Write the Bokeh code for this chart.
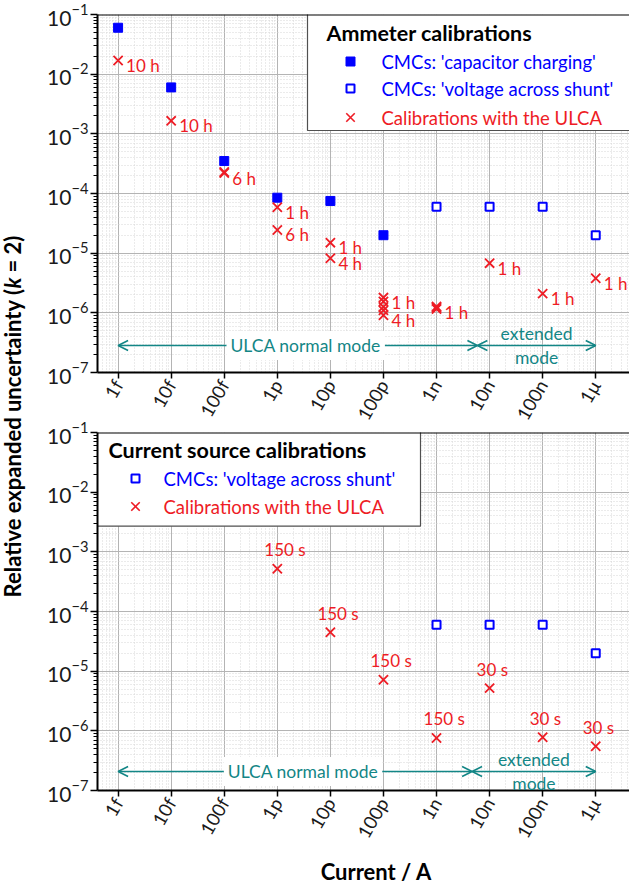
import math
from bokeh.plotting import figure
from bokeh.models import (FixedTicker, CustomJSTickFormatter, Label, Span, Arrow,
                          OpenHead, Range1d, ColumnDataSource)
from bokeh.layouts import row, column
from bokeh.embed import file_html
from bokeh.resources import INLINE
from bokeh.core.properties import value

# ---------------- data ----------------
currents = [1e-15, 1e-14, 1e-13, 1e-12, 1e-11, 1e-10, 1e-9, 1e-8, 1e-7, 1e-6]
x_labels = ["1f", "10f", "100f", "1p", "10p", "100p", "1n", "10n", "100n", "1µ"]
y_ticks = [1e-7, 1e-6, 1e-5, 1e-4, 1e-3, 1e-2, 1e-1]

# Ammeter calibrations
amm_cap_x = [1e-15, 1e-14, 1e-13, 1e-12, 1e-11, 1e-10]
amm_cap_y = [6e-2, 6e-3, 3.5e-4, 8.5e-5, 7.5e-5, 2e-5]
shunt_x = [1e-9, 1e-8, 1e-7, 1e-6]
shunt_y = [6e-5, 6e-5, 6e-5, 2e-5]
amm_ulca_x = [1e-15, 1e-14, 1e-13, 1e-13, 1e-12, 1e-12, 1e-11, 1e-11,
              1e-10, 1e-10, 1e-10, 1e-10, 1e-10, 1e-9, 1e-9, 1e-9, 1e-8, 1e-7, 1e-6]
amm_ulca_y = [1.7e-2, 1.65e-3, 2.3e-4, 2.2e-4, 5.9e-5, 2.45e-5, 1.5e-5, 8.2e-6,
              1.8e-6, 1.55e-6, 1.26e-6, 1.1e-6, 9.1e-7, 1.28e-6, 1.22e-6, 1.16e-6,
              6.8e-6, 2.1e-6, 3.8e-6]
amm_ulca_lbl = ["10 h", "10 h", "", "6 h", "1 h", "6 h", "1 h", "4 h",
                "1 h", "", "", "", "4 h", "", "1 h", "", "1 h", "1 h", "1 h"]

# Current source calibrations
src_ulca_x = [1e-12, 1e-11, 1e-10, 1e-9, 1e-8, 1e-7, 1e-6]
src_ulca_y = [5.2e-4, 4.5e-5, 7.2e-6, 7.6e-7, 5.2e-6, 7.8e-7, 5.5e-7]
src_ulca_lbl = ["150 s", "150 s", "150 s", "150 s", "30 s", "30 s", "30 s"]

# ULCA operating mode ranges (log10 of current)
mode_start = -15.0
mode_break_top = -8.23
mode_break_bot = -8.33
mode_end = -6.0

# ---------------- style ----------------
FONT = "Lato"
BLUE = "#0000ff"
RED = "#ee1c25"
TEAL = "#138686"

LAB_W = 28
XLO, XHI = -15.388, -5.364
FR_L, FR_R = 97.0, 629.0
FW, FH = 532, 358
TOP_FRAME_Y = 14.0
BOT_FRAME_Y = 432.0
TOP_B_BOTTOM = 60      # p1 bottom border (holds rotated tick labels)
OVERLAP = 20           # p2 top border, overlapping p1's bottom border
BOT_B_BOTTOM = 60


def px2x(px):
    return 10 ** (XLO + (px - FR_L) / (FR_R - FR_L) * (XHI - XLO))


def py2y(py, frame_top):
    return 10 ** (-1 - (py - frame_top) / FH * 6)


y_minor = [m * 10 ** e for e in range(-7, -1) for m in range(2, 10)]
x_minor = [m * 10 ** e for e in range(-16, -5) for m in range(2, 10)]

xfmt_code = """
const e = Math.round(Math.log10(tick));
const s = labels[e + 15];
return (s === undefined) ? '' : s;
"""


def make_fig(border_top, border_bottom):
    p = figure(frame_width=FW, frame_height=FH, x_axis_type="log", y_axis_type="log",
               x_range=Range1d(10 ** XLO, 10 ** XHI), y_range=Range1d(1e-7, 1e-1),
               toolbar_location=None, output_backend="svg",
               min_border_left=int(FR_L - LAB_W), min_border_right=0,
               min_border_top=border_top, min_border_bottom=border_bottom)
    p.outline_line_color = None
    p.background_fill_color = "white"
    p.border_fill_color = "white"

    ya = p.yaxis[0]
    ya.ticker = FixedTicker(ticks=y_ticks, minor_ticks=y_minor)
    ya.axis_line_width = 2
    ya.axis_line_color = "black"
    ya.major_tick_in = 0
    ya.major_tick_out = 7
    ya.minor_tick_in = 0
    ya.minor_tick_out = 4
    ya.major_tick_line_width = 1.5
    ya.major_tick_line_color = "black"
    ya.minor_tick_line_color = "black"
    ya.major_label_text_font = FONT
    ya.major_label_text_font_size = "21px"
    ya.major_label_text_color = "#1a1a1a"
    ya.major_label_standoff = 2

    xa = p.xaxis[0]
    xa.ticker = FixedTicker(ticks=currents, minor_ticks=x_minor)
    xa.formatter = CustomJSTickFormatter(args=dict(labels=x_labels), code=xfmt_code)
    xa.major_label_orientation = math.pi / 3
    xa.axis_line_width = 2
    xa.axis_line_color = "black"
    xa.major_tick_in = 0
    xa.major_tick_out = 6
    xa.minor_tick_in = 0
    xa.minor_tick_out = 0
    xa.major_tick_line_width = 1.5
    xa.major_tick_line_color = "black"
    xa.major_label_text_font = FONT
    xa.major_label_text_font_size = "18.5px"
    xa.major_label_text_color = "#1a1a1a"
    xa.major_label_standoff = 3

    for g in (p.xgrid[0], p.ygrid[0]):
        g.grid_line_color = "#b4b4b4"
        g.grid_line_width = 1
        g.minor_grid_line_color = "#d6d6d6"
        g.minor_grid_line_dash = "1 2"
        g.minor_grid_line_width = 1

    p.add_layout(Span(location=1e-1, dimension="width", line_color="black", line_width=2))
    return p


def add_modes(p, frame_top, y_px, brk):
    y = py2y(y_px, frame_top)
    x0, xb, x1 = 10 ** mode_start, 10 ** brk, 10 ** mode_end
    for a, b in ((x0, xb), (xb, x1)):
        p.add_layout(Arrow(x_start=a, y_start=y, x_end=b, y_end=y,
                           line_color=TEAL, line_width=1.6,
                           start=OpenHead(size=10, line_color=TEAL, line_width=1.6),
                           end=OpenHead(size=10, line_color=TEAL, line_width=1.6)))
    p.add_layout(Label(x=10 ** ((mode_start + brk) / 2 + 0.15), y=y, text="ULCA normal mode",
                       text_font=FONT, text_font_size="17.5px", text_color=TEAL,
                       text_align="center", text_baseline="middle",
                       background_fill_color="white", padding=4))
    xm = 10 ** ((brk + mode_end) / 2)
    p.add_layout(Label(x=xm, y=py2y(y_px - 12, frame_top), text="extended",
                       text_font=FONT, text_font_size="17.5px", text_color=TEAL,
                       text_align="center", text_baseline="middle"))
    p.add_layout(Label(x=xm, y=py2y(y_px + 12, frame_top), text="mode",
                       text_font=FONT, text_font_size="17.5px", text_color=TEAL,
                       text_align="center", text_baseline="middle"))


def add_legend(p, frame_top, box, title, title_pos, entries, mk_x, txt_x):
    l, r, b = box
    p.quad(left=[px2x(l)], right=[px2x(r)], top=[1.0], bottom=[py2y(b, frame_top)],
           fill_color="white", line_color="#505050", line_width=1.2)
    p.add_layout(Label(x=px2x(title_pos[0]), y=py2y(title_pos[1], frame_top), text=title,
                       text_font=FONT, text_font_size="21.5px", text_font_style="bold",
                       text_color="black", text_align="left", text_baseline="middle"))
    for (kind, label, color, ypx) in entries:
        yy = py2y(ypx, frame_top)
        if kind == "filled":
            p.scatter([px2x(mk_x)], [yy], marker="square", size=9, fill_color=BLUE, line_color=BLUE)
        elif kind == "open":
            p.scatter([px2x(mk_x)], [yy], marker="square", size=8, fill_color="white",
                      line_color=BLUE, line_width=2)
        else:
            p.scatter([px2x(mk_x)], [yy], marker="x", size=12, line_color=RED, line_width=1.6)
        p.add_layout(Label(x=px2x(txt_x), y=yy, text=label, text_font=FONT,
                           text_font_size="18.5px", text_color=color,
                           text_align="left", text_baseline="middle"))


# ---------------- top: ammeter ----------------
p1 = make_fig(int(TOP_FRAME_Y), TOP_B_BOTTOM)
add_modes(p1, TOP_FRAME_Y, 345, mode_break_top)
add_legend(p1, TOP_FRAME_Y, (307, 700, 130), "Ammeter calibrations", (326, 32),
           [("filled", "CMCs: 'capacitor charging'", BLUE, 61),
            ("open", "CMCs: 'voltage across shunt'", BLUE, 88),
            ("x", "Calibrations with the ULCA", RED, 117)], 350, 381)

p1.scatter(amm_cap_x, amm_cap_y, marker="square", size=9, fill_color=BLUE, line_color=BLUE)
p1.scatter(shunt_x, shunt_y, marker="square", size=8, fill_color="white",
           line_color=BLUE, line_width=2)
src1 = ColumnDataSource(dict(x=amm_ulca_x, y=amm_ulca_y, t=amm_ulca_lbl))
p1.scatter("x", "y", source=src1, marker="x", size=13, line_color=RED, line_width=1.8)
p1.text("x", "y", text="t", source=src1, text_font=value(FONT), text_font_size="17px",
        text_color=RED, text_align="left", text_baseline="middle", x_offset=8, y_offset=5)

# ---------------- bottom: current source ----------------
p2 = make_fig(OVERLAP, BOT_B_BOTTOM)
p2.border_fill_alpha = 0
p2.styles = {"margin-top": f"-{OVERLAP}px"}
add_modes(p2, BOT_FRAME_Y, 771, mode_break_bot)
add_legend(p2, BOT_FRAME_Y, (60, 420, 525.7), "Current source calibrations", (108, 449),
           [("open", "CMCs: 'voltage across shunt'", BLUE, 478),
            ("x", "Calibrations with the ULCA", RED, 506)], 135, 163)

p2.scatter(shunt_x, shunt_y, marker="square", size=8, fill_color="white",
           line_color=BLUE, line_width=2)
src2 = ColumnDataSource(dict(x=src_ulca_x, y=src_ulca_y, t=src_ulca_lbl))
p2.scatter("x", "y", source=src2, marker="x", size=13, line_color=RED, line_width=1.8)
p2.text("x", "y", text="t", source=src2, text_font=value(FONT), text_font_size="17px",
        text_color=RED, text_align="left", text_baseline="middle", x_offset=-13, y_offset=-19)

# ---------------- x label strip ----------------
XL_TOP = BOT_FRAME_Y + FH + BOT_B_BOTTOM
XL_H = int(885 - XL_TOP)
xlab = figure(width=int(FR_R - LAB_W), height=XL_H, x_range=Range1d(0, FR_R - LAB_W),
              y_range=Range1d(0, XL_H), toolbar_location=None, output_backend="svg",
              min_border=0, x_axis_type=None, y_axis_type=None)
xlab.outline_line_color = None
xlab.xgrid.visible = False
xlab.ygrid.visible = False
xlab.add_layout(Label(x=343 - LAB_W, y=885 - 871, text="Current / A",
                      text_font=FONT, text_font_size="22px", text_font_style="bold",
                      text_color="black", text_align="center", text_baseline="middle"))

# ---------------- y label column ----------------
lab = figure(width=LAB_W, height=885, x_range=Range1d(0, LAB_W), y_range=Range1d(0, 885),
             toolbar_location=None, output_backend="svg", min_border=0,
             x_axis_type=None, y_axis_type=None)
lab.outline_line_color = None
lab.xgrid.visible = False
lab.ygrid.visible = False
yk = 885 - 288  # start of the italic k (data y)
common = dict(x=12, angle=math.pi / 2, text_font=FONT, text_font_size="22px",
              text_color="black", text_baseline="middle")
lab.add_layout(Label(y=yk, text="Relative expanded uncertainty (", text_align="right",
                     text_font_style="bold", **common))
lab.add_layout(Label(y=yk, text="k", text_align="left", text_font_style="bold italic", **common))
lab.add_layout(Label(y=yk + 16, text="= 2)", text_align="left", text_font_style="bold", **common))

layout = row(lab, column(p1, p2, xlab))
open("out.html", "w").write(file_html(layout, INLINE))
